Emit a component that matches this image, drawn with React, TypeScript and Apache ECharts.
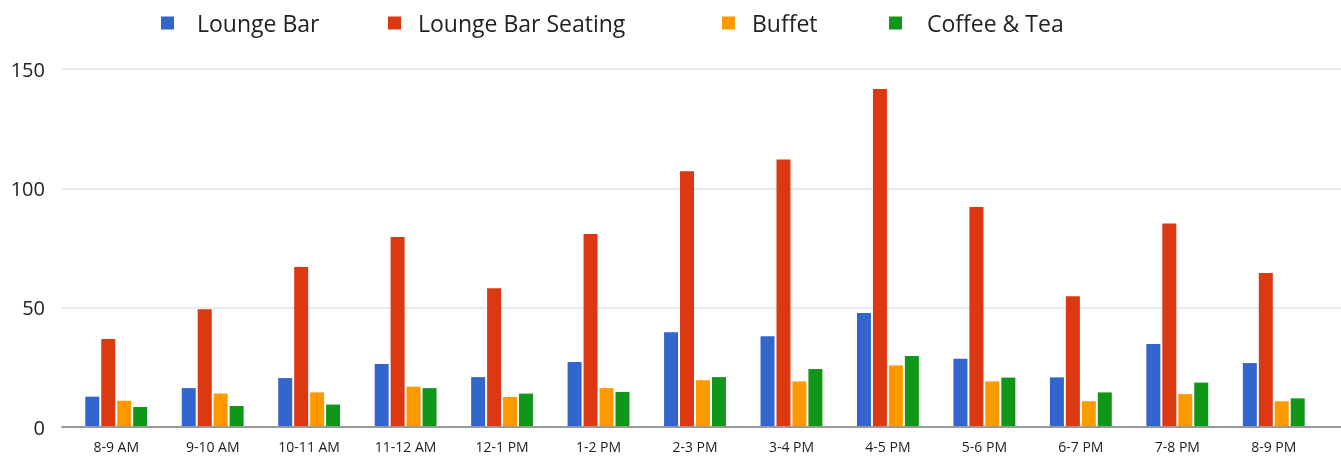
import React, { useEffect, useRef } from "react";
import * as echarts from "echarts";

const categories = [
  "8-9 AM", "9-10 AM", "10-11 AM", "11-12 AM", "12-1 PM", "1-2 PM", "2-3 PM",
  "3-4 PM", "4-5 PM", "5-6 PM", "6-7 PM", "7-8 PM", "8-9 PM",
];
const loungeBar = [12.7, 16.3, 20.5, 26.4, 20.9, 27.2, 39.7, 38.0, 47.8, 28.6, 20.8, 34.8, 26.8];
const loungeBarSeating = [36.9, 49.3, 67, 79.6, 58.1, 80.9, 107.2, 112.1, 141.6, 92.2, 54.8, 85.3, 64.5];
const buffet = [11.0, 14.0, 14.5, 16.9, 12.6, 16.3, 19.6, 19.1, 25.8, 19.1, 10.8, 13.8, 10.8];
const coffeeTea = [8.4, 8.8, 9.4, 16.3, 14.0, 14.7, 20.9, 24.3, 29.7, 20.7, 14.5, 18.6, 12.0];
const yTicks = { min: 0, max: 150, interval: 50 };

const seriesNames = ["Lounge Bar", "Lounge Bar Seating", "Buffet", "Coffee & Tea"];
const seriesData = [loungeBar, loungeBarSeating, buffet, coffeeTea];
const colors = ["#3366cc", "#dc3912", "#ff9900", "#109618"];

const FONT = "'Open Sans', 'Noto Sans', sans-serif";

export default function App() {
  const ref = useRef<HTMLDivElement>(null);
  useEffect(() => {
    if (!ref.current) return;
    const chart = echarts.init(ref.current, null, { renderer: "svg" });
    const legendPos = [
      { left: 156, pad: 18 },
      { left: 383, pad: 12 },
      { left: 717, pad: 12 },
      { left: 884, pad: 20 },
    ];
    chart.setOption({
      animation: false,
      color: colors,
      textStyle: { fontFamily: FONT },
      legend: seriesNames.map((n, i) => ({
        data: [n],
        left: legendPos[i].left,
        top: 5,
        icon: "rect",
        itemWidth: 13,
        itemHeight: 13,
        textStyle: {
          fontFamily: FONT,
          fontSize: 23,
          color: "#222",
          lineHeight: 26,
          padding: [0, 0, 0, legendPos[i].pad],
        },
      })),
      grid: [
        { left: 62, right: 0, top: 69, bottom: 29, containLabel: false },
        { left: 68, right: 19, top: 69, bottom: 29, containLabel: false },
      ],
      xAxis: [
        {
          type: "category",
          gridIndex: 0,
          data: [""],
          axisLine: { show: true, lineStyle: { color: "#999", width: 2 } },
          axisTick: { show: false },
          axisLabel: { show: false },
          z: 5,
        },
        {
          type: "category",
          gridIndex: 1,
          data: categories,
          axisLine: { show: false },
          axisTick: { show: false },
          axisLabel: {
            color: "#222",
            fontSize: 14,
            fontFamily: FONT,
            margin: 12,
            interval: 0,
          },
        },
      ],
      yAxis: [
        {
          type: "value",
          gridIndex: 0,
          ...yTicks,
          axisLine: { show: false },
          axisTick: { show: false },
          axisLabel: { color: "#222", fontSize: 20, fontFamily: FONT, margin: 17 },
          splitLine: { lineStyle: { color: "#e3e3e3", width: 1.5 } },
        },
        {
          type: "value",
          gridIndex: 1,
          ...yTicks,
          show: false,
          splitLine: { show: false },
        },
      ],
      series: seriesNames.map((n, i) => ({
        name: n,
        type: "bar",
        xAxisIndex: 1,
        yAxisIndex: 1,
        data: seriesData[i],
        barWidth: 14,
        barGap: "14%",
        itemStyle: { color: colors[i] },
      })),
    });
    return () => chart.dispose();
  }, []);
  return (
    <div
      ref={ref}
      style={{ position: "fixed", left: 0, top: 0, width: 1341, height: 456 }}
    />
  );
}
